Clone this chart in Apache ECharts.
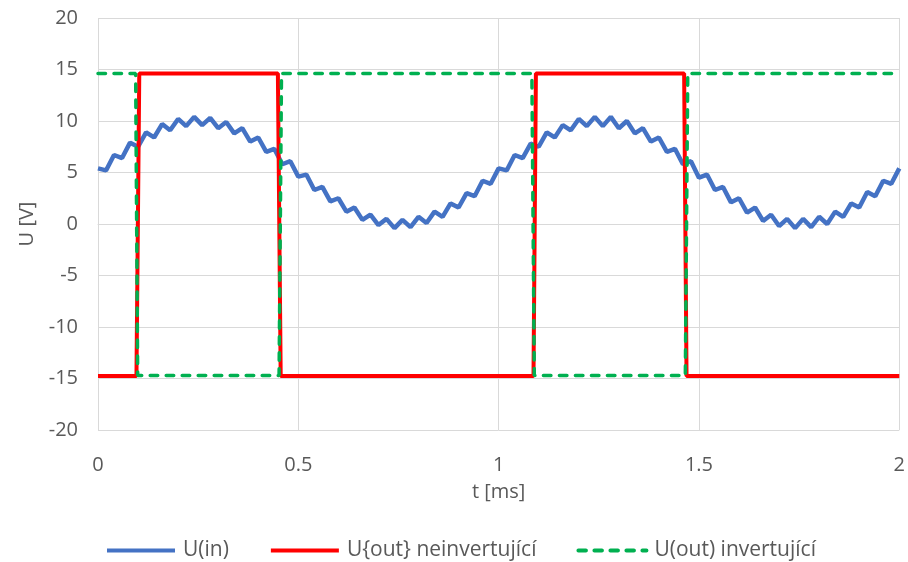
<!DOCTYPE html>
<html>
<head>
<meta charset="utf-8">
<script src="https://cdn.jsdelivr.net/npm/echarts@6/dist/echarts.min.js"></script>
<style>html,body{margin:0;padding:0;background:#fff}#c{width:908px;height:562px}</style>
</head>
<body>
<div id="c"></div>
<script>
const xTicks = [0, 0.5, 1, 1.5, 2];
const yTicks = [-20, -15, -10, -5, 0, 5, 10, 15, 20];

const inT = [0,0.02,0.04,0.06,0.08,0.10,0.12,0.14,0.16,0.18,0.20,0.22,0.24,0.26,0.28,0.30,0.32,0.34,0.36,0.38,0.40,0.42,0.44,0.46,0.48,0.50,0.52,0.54,0.56,0.58,0.60,0.62,0.64,0.66,0.68,0.70,0.72,0.74,0.76,0.78,0.80,0.82,0.84,0.86,0.88,0.90,0.92,0.94,0.96,0.98,1.00,1.02,1.04,1.06,1.08,1.10,1.12,1.14,1.16,1.18,1.20,1.22,1.24,1.26,1.28,1.30,1.32,1.34,1.36,1.38,1.40,1.42,1.44,1.46,1.48,1.50,1.52,1.54,1.56,1.58,1.60,1.62,1.64,1.66,1.68,1.70,1.72,1.74,1.76,1.78,1.80,1.82,1.84,1.86,1.88,1.90,1.92,1.94,1.96,1.98,2.00];
const inV = [5.4,5.2,6.7,6.4,7.9,7.5,8.9,8.4,9.7,9.1,10.2,9.5,10.4,9.6,10.3,9.3,9.9,8.8,9.3,8.0,8.4,7.0,7.3,5.8,6.1,4.6,4.8,3.3,3.6,2.2,2.5,1.2,1.6,0.4,0.9,-0.1,0.5,-0.4,0.4,-0.3,0.7,0.1,1.2,0.7,2.0,1.6,3.0,2.7,4.2,3.9,5.4,5.2,6.7,6.4,7.8,7.5,8.9,8.4,9.6,9.1,10.2,9.5,10.4,9.5,10.4,9.3,10.0,8.8,9.3,8.0,8.4,7.0,7.3,5.8,6.1,4.5,4.8,3.3,3.6,2.1,2.5,1.1,1.6,0.3,0.9,-0.2,0.5,-0.4,0.5,-0.3,0.7,0.0,1.2,0.7,2.0,1.6,3.1,2.7,4.2,3.9,5.4];

const nonInvT = [0, 0.096, 0.103, 0.449, 0.456, 1.087, 1.093, 1.463, 1.469, 2];
const nonInvV = [-14.75, -14.75, 14.6, 14.6, -14.75, -14.75, 14.6, 14.6, -14.75, -14.75];

const invT = [0, 0.094, 0.099, 0.452, 0.458, 1.083, 1.089, 1.466, 1.472, 2];
const invV = [14.6, 14.6, -14.7, -14.7, 14.6, 14.6, -14.7, -14.7, 14.6, 14.6];

const names = ['U(in)', 'U{out} neinvertující', 'U(out) invertující'];

const zip = (a, b) => a.map((t, i) => [t, b[i]]);
const FONT = 'Open Sans';
const GRAY = '#595959';
const FS = 20;

const chart = echarts.init(document.getElementById('c'), null, {renderer: 'canvas'});
chart.setOption({
  animation: false,
  backgroundColor: '#fff',
  grid: {left: 98, right: 6, top: 18, bottom: 132, containLabel: false},
  xAxis: {
    type: 'value', min: xTicks[0], max: xTicks[xTicks.length - 1], interval: 0.5,
    name: 't [ms]', nameLocation: 'middle', nameGap: 52,
    nameTextStyle: {color: GRAY, fontSize: FS, fontFamily: FONT},
    axisLine: {show: true, lineStyle: {color: '#d9d9d9', width: 1}},
    axisTick: {show: false},
    axisLabel: {color: GRAY, fontSize: FS, fontFamily: FONT, margin: 25,
      formatter: v => String(v)},
    splitLine: {show: true, lineStyle: {color: '#d9d9d9', width: 1}}
  },
  yAxis: {
    type: 'value', min: yTicks[0], max: yTicks[yTicks.length - 1], interval: 5,
    name: 'U [V]', nameLocation: 'middle', nameGap: 60, nameRotate: 90,
    nameTextStyle: {color: GRAY, fontSize: FS, fontFamily: FONT},
    axisLine: {show: false},
    axisTick: {show: false},
    axisLabel: {color: GRAY, fontSize: FS, fontFamily: FONT, margin: 20},
    splitLine: {show: true, lineStyle: {color: '#d9d9d9', width: 1}}
  },
  legend: {
    bottom: 1, left: 105, padding: 0, itemWidth: 68, itemHeight: 14, itemGap: 40,
    itemStyle: {opacity: 0},
    lineStyle: {width: 4},
    textStyle: {color: GRAY, fontSize: 21, fontFamily: FONT, padding: [0, 0, 0, 3]},
    data: names
  },
  series: [
    {name: names[0], type: 'line', data: zip(inT, inV), symbol: 'none', showSymbol: false,
     lineStyle: {color: '#4472c4', width: 4.5}, itemStyle: {color: '#4472c4'}, z: 2},
    {name: names[1], type: 'line', data: zip(nonInvT, nonInvV), symbol: 'none', showSymbol: false,
     lineStyle: {color: '#ff0000', width: 4}, itemStyle: {color: '#ff0000'}, z: 3},
    {name: names[2], type: 'line', data: zip(invT, invV), symbol: 'none', showSymbol: false,
     lineStyle: {color: '#00b050', width: 3.5, type: [7.5, 8.5], cap: 'round'}, itemStyle: {color: '#00b050'}, z: 4}
  ]
});
</script>
</body>
</html>
